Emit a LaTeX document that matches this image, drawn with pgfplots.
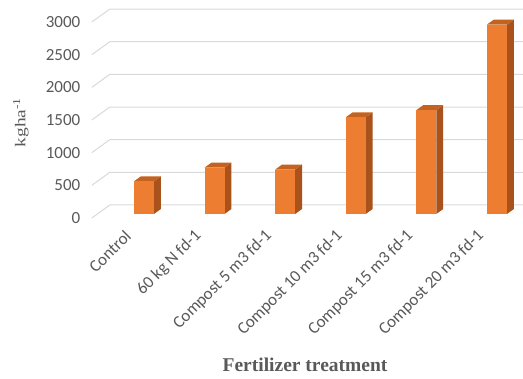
\documentclass[border=0pt]{standalone}
\usepackage{pgfplots}
\pgfplotsset{compat=1.18}
\usepackage{pgfplotstable}
\usepackage{graphicx}
\usepackage{fontspec}
\setmainfont{Liberation Serif}
\newfontfamily\calibri{Carlito}

\definecolor{barfront}{HTML}{ED7D31}
\definecolor{barside}{HTML}{A9521C}
\definecolor{bartop}{HTML}{C4631F}
\definecolor{gridgray}{HTML}{D9D9D9}
\definecolor{ticktext}{HTML}{595959}

% yield per treatment (kg/ha)
\pgfplotstableread{
idx yield
0 500
1 710
2 680
3 1480
4 1590
5 2900
}\yielddata

\begin{document}
\begin{tikzpicture}
\begin{axis}[
  at={(0pt,0pt)}, anchor=origin,
  x={(70.6pt,0pt)}, y={(18pt,13pt)}, z={(0pt,0.06533pt)},
  xmin=-0.66, xmax=5.19, ymin=0, ymax=1, zmin=0, zmax=3000,
  axis line style={draw=none},
  tick style={draw=none},
  ytick=\empty,
  ztick={0,500,...,3000},
  xtick={0,...,5},
  xticklabels={Control, 60 kg N fd-1, Compost 5 m3 fd-1, Compost 10 m3 fd-1, Compost 15 m3 fd-1, Compost 20 m3 fd-1},
  tick label style={font=\calibri\fontsize{17}{19}\selectfont, text=ticktext},
  /pgf/number format/assume math mode=true,
  /pgf/number format/1000 sep={},
  z tick label style={anchor=east, xshift=-8pt},
  x tick label style={xshift=-8pt, yshift=-13pt, rotate=45, anchor=east},
  clip=false,
]
% gridlines: left wall segment plus back wall
\pgfplotsinvokeforeach{0,500,...,3000}{
  \addplot3[gridgray, line width=1pt] coordinates {(-0.66,0,#1) (-0.66,1,#1) (5.19,1,#1)};
}
% 3D columns: side, top and front faces
\pgfplotsforeachungrouped \i in {0,...,5}{
  \pgfplotstablegetelem{\i}{yield}\of\yielddata
  \edef\v{\pgfplotsretval}
  \pgfmathsetmacro\xa{\i-0.1416}
  \pgfmathsetmacro\xb{\i+0.1416}
  \edef\cmd{%
   \noexpand\addplot3[fill=barside, draw=none] coordinates {(\xb,0.31,0) (\xb,0.69,0) (\xb,0.69,\v) (\xb,0.31,\v)} --cycle;
   \noexpand\addplot3[fill=bartop, draw=none] coordinates {(\xa,0.31,\v) (\xb,0.31,\v) (\xb,0.69,\v) (\xa,0.69,\v)} --cycle;
   \noexpand\addplot3[fill=barfront, draw=none] coordinates {(\xa,0.31,0) (\xb,0.31,0) (\xb,0.31,\v) (\xa,0.31,\v)} --cycle;
  }%
  \cmd
}
\end{axis}
\node[font=\bfseries\fontsize{19.5}{21}\selectfont, text=ticktext] at (166.6pt,-147pt) {Fertilizer treatment};
\node[rotate=90, font=\fontsize{15}{17}\selectfont, text=ticktext] at (-117.4pt,95.5pt) {\scalebox{1.3}[1]{kgha\textsuperscript{-1}}};
\pgfresetboundingbox
\path[use as bounding box] (-138.4pt,-161pt) rectangle (384.6pt,218pt);
\end{tikzpicture}
\end{document}
